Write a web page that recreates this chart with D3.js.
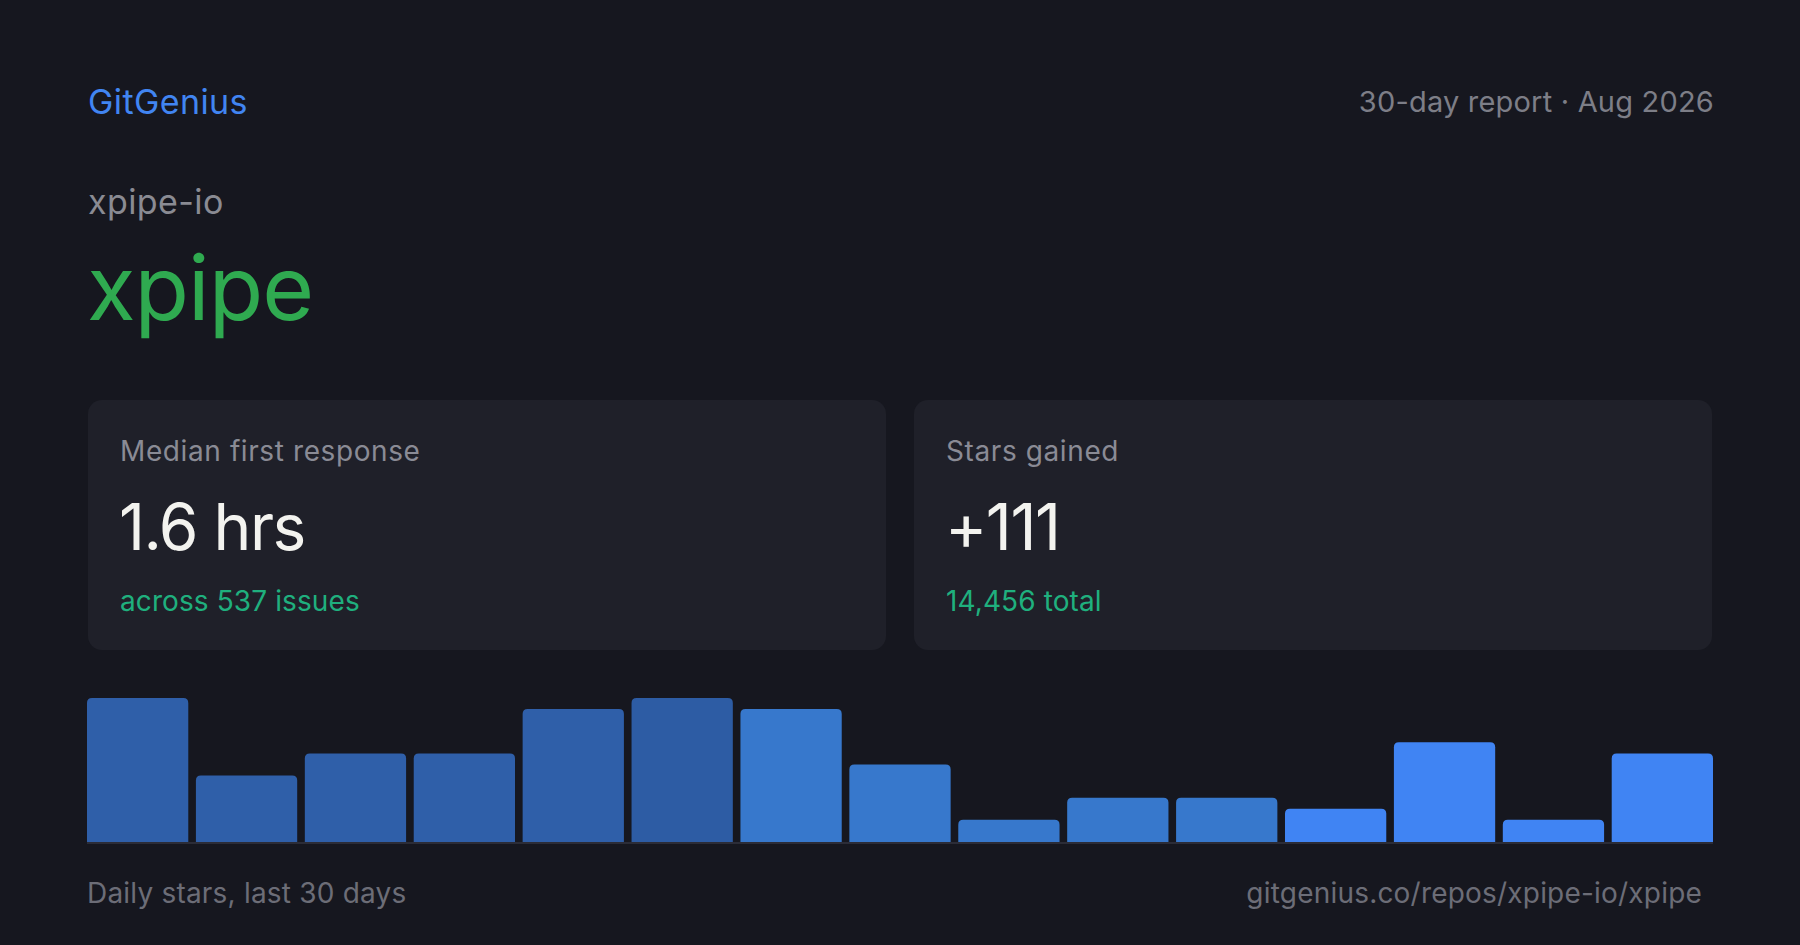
<!DOCTYPE html>
<html>
<head>
<meta charset="utf-8">
<script src="https://cdn.jsdelivr.net/npm/d3@7"></script>
<style>
  html, body { margin: 0; padding: 0; background: #16171f; }
  svg { display: block; font-family: Inter, "Noto Sans", sans-serif; }
</style>
</head>
<body>
<svg width="1800" height="945"></svg>
<script>
(function () {

  // stars per bar (2-day buckets over the last 30 days)
  var buckets = ['d1','d2','d3','d4','d5','d6','d7','d8','d9','d10','d11','d12','d13','d14','d15']
  var stars = [13, 6, 8, 8, 12, 13, 12, 7, 2, 4, 4, 3, 9, 2, 8]

  // card contents
  var cardLabels = ['Median first response', 'Stars gained']
  var cardValues = ['1.6 hrs', '+111']
  var cardNotes = ['across 537 issues', '14,456 total']

  var W = 1800, H = 945, pad = 88

  var svg = d3.select('svg')

  svg.append('rect').attr('width', W).attr('height', H).attr('fill', '#16171f')

  // header
  svg.append('text')
    .attr('x', pad).attr('y', 114)
    .attr('font-size', 34).attr('fill', '#4185f2')
    .attr('letter-spacing', 0.4)
    .text('GitGenius')

  svg.append('text')
    .attr('x', W - pad + 2).attr('y', 112)
    .attr('text-anchor', 'end')
    .attr('font-size', 29).attr('fill', '#7d7e87')
    .attr('letter-spacing', 0.2)
    .text('30-day report · Aug 2026')

  svg.append('text')
    .attr('x', pad).attr('y', 214)
    .attr('font-size', 34).attr('fill', '#8a8b93')
    .attr('letter-spacing', 0.4)
    .text('xpipe-io')

  svg.append('text')
    .attr('x', pad - 1).attr('y', 320)
    .attr('font-size', 89).attr('fill', '#2faa50')
    .attr('letter-spacing', -1)
    .text('xpipe')

  // stat cards
  var gap = 28
  var cardW = (W - 2 * pad - gap) / 2
  var cardX = d3.scaleLinear().domain([0, 1]).range([pad, pad + cardW + gap])

  var cards = svg.selectAll('g.card')
    .data(cardLabels)
    .enter().append('g')
    .attr('class', 'card')
    .attr('transform', function(d, i) { return 'translate(' + cardX(i) + ',400)' })

  cards.append('rect')
    .attr('width', cardW).attr('height', 250)
    .attr('rx', 14)
    .attr('fill', '#1f2029')

  cards.append('text')
    .attr('x', 32).attr('y', 61)
    .attr('font-size', 28).attr('fill', '#8a8b95')
    .attr('letter-spacing', 0.6)
    .text(function(d) { return d })

  cards.append('text')
    .attr('x', 31).attr('y', 150)
    .attr('font-size', 64).attr('fill', '#f3f3ef')
    .attr('letter-spacing', -1.5)
    .text(function(d, i) { return cardValues[i] })

  cards.append('text')
    .attr('x', 32).attr('y', 211)
    .attr('font-size', 28).attr('fill', '#1fb07e')
    .attr('letter-spacing', 0.1)
    .text(function(d, i) { return cardNotes[i] })

  // bar chart
  var chartTop = 698, chartBottom = 842

  var xScale = d3.scaleBand().domain(buckets).range([pad - 1, W - pad + 1]).paddingInner(0.07)
  var yScale = d3.scaleLinear().domain([0, d3.max(stars)]).range([chartBottom, chartTop])
  var colorScale = d3.scaleThreshold().domain([5, 6, 11])
    .range(['#2f5fa9', '#2d5ca4', '#3778cc', '#4084f3'])

  var r = 5
  svg.selectAll('path.bar')
    .data(stars)
    .enter().append('path')
    .attr('class', 'bar')
    .attr('fill', function(d, i) { return colorScale(i) })
    .attr('d', function(d, i) {
      var x0 = xScale(buckets[i]), w = xScale.bandwidth()
      var y0 = yScale(d), y1 = yScale(0)
      return 'M' + x0 + ',' + y1 +
        'V' + (y0 + r) +
        'Q' + x0 + ',' + y0 + ' ' + (x0 + r) + ',' + y0 +
        'H' + (x0 + w - r) +
        'Q' + (x0 + w) + ',' + y0 + ' ' + (x0 + w) + ',' + (y0 + r) +
        'V' + y1 + 'Z'
    })

  svg.append('line')
    .attr('x1', pad - 1).attr('x2', W - pad + 1)
    .attr('y1', chartBottom + 1).attr('y2', chartBottom + 1)
    .attr('stroke', '#2b2c37').attr('stroke-width', 2)

  // footer
  svg.append('text')
    .attr('x', pad - 1).attr('y', 903)
    .attr('font-size', 28).attr('fill', '#6c6d77')
    .attr('letter-spacing', 0.2)
    .text('Daily stars, last 30 days')

  svg.append('text')
    .attr('x', W - pad - 10).attr('y', 903)
    .attr('text-anchor', 'end')
    .attr('font-size', 28).attr('fill', '#6c6d77')
    .attr('letter-spacing', 0.2)
    .text('gitgenius.co/repos/xpipe-io/xpipe')

})()
</script>
</body>
</html>
